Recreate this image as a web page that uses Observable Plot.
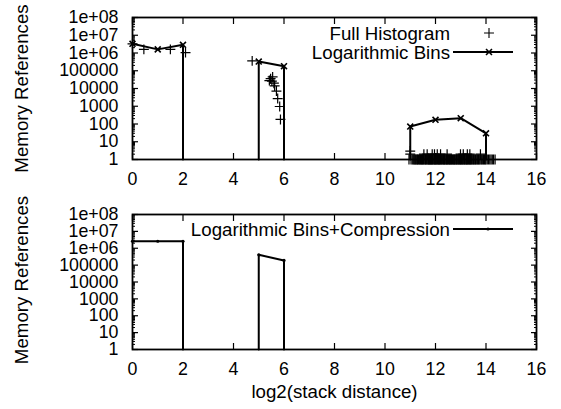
<!DOCTYPE html>
<html><head><meta charset="utf-8">
<script src="https://cdn.jsdelivr.net/npm/d3@7"></script>
<script src="https://cdn.jsdelivr.net/npm/@observablehq/plot@0.6"></script>
<style>
body{margin:0;background:#fff;}
#chart{width:561px;height:409px;}
#chart svg{display:block;}
</style></head><body><div id="chart"></div>
<script>
// ---- axis ticks / labels ----
const xTicks = [0, 2, 4, 6, 8, 10, 12, 14, 16];
const yTicks = [1, 10, 100, 1000, 1e4, 1e5, 1e6, 1e7, 1e8];
const yTickLabels = ["1", "10", "100", "1000", "10000", "100000", "1e+06", "1e+07", "1e+08"];
const xLabel = "log2(stack distance)";
const yLabel = "Memory References";

// ---- series: Logarithmic Bins (top panel); 1 = floor of the log axis; seg = line piece ----
const binX   = [0, 1, 2, 2, 5, 5, 6, 6, 11, 11, 12, 13, 14, 14];
const binY   = [3.3e6, 1.6e6, 2.9e6, 1, 1, 3.3e5, 1.8e5, 1, 1, 72, 172, 213, 30, 1];
const binSeg = [0, 0, 0, 0, 1, 1, 1, 1, 2, 2, 2, 2, 2, 2];

// ---- series: Full Histogram (top panel), counts above 1 ----
const fullX = [0, 0.45, 1.5, 2.1, 4.74,
  5.42, 5.47, 5.52, 5.55, 5.6, 5.63, 5.7, 5.75, 5.83, 5.86,
  11.0, 11.0, 11.54, 11.67, 11.87, 11.96, 12.07, 12.2, 12.46, 12.99, 13.1, 13.26, 13.36, 13.78];
const fullY = [3.3e6, 1.6e6, 1.6e6, 1.05e6, 3.6e5,
  2.8e4, 3.6e4, 2.6e4, 4.5e4, 2.0e4, 1.4e4, 7.2e3, 2.7e3, 970, 180,
  3, 2, 2, 2, 2, 2, 2, 2, 2, 2, 2, 2, 2, 2];
// ---- Full Histogram: distances referenced exactly once (count = 1) ----
const onceX = [10.95, 11.03, 11.08, 11.12, 11.15, 11.18, 11.2, 11.23, 11.26, 11.28, 11.3, 11.33,
  11.36, 11.38, 11.41, 11.43, 11.45, 11.48, 11.5, 11.52, 11.55, 11.58, 11.6, 11.62, 11.65, 11.67,
  11.7, 11.72, 11.74, 11.76, 11.78, 11.8, 11.82, 11.84, 11.86, 11.88, 11.9, 11.93, 11.95, 11.97,
  11.99, 12.01, 12.03, 12.05, 12.08, 12.1, 12.12, 12.14, 12.16, 12.18, 12.2, 12.23, 12.25, 12.27,
  12.3, 12.32, 12.34, 12.36, 12.38, 12.41, 12.43, 12.45, 12.47, 12.49, 12.52, 12.54, 12.56, 12.58,
  12.6, 12.63, 12.65, 12.67, 12.7, 12.72, 12.74, 12.76, 12.78, 12.81, 12.83, 12.85, 12.88, 12.9,
  12.92, 12.95, 12.97, 12.99, 13.01, 13.03, 13.06, 13.08, 13.1, 13.13, 13.15, 13.17, 13.2, 13.22,
  13.24, 13.26, 13.28, 13.31, 13.33, 13.35, 13.38, 13.4, 13.42, 13.45, 13.48, 13.5, 13.53, 13.56,
  13.58, 13.61, 13.64, 13.67, 13.7, 13.73, 13.76, 13.8, 13.83, 13.87, 13.9, 13.94, 13.97, 14.0,
  14.05, 14.1, 14.15, 14.2, 14.25, 14.3, 14.36];
const onceY = 1;

// ---- series: Logarithmic Bins+Compression (bottom panel) ----
const compX   = [0, 1, 2, 2, 5, 5, 6, 6];
const compY   = [2.6e6, 2.6e6, 2.6e6, 1, 1, 4.1e5, 1.9e5, 1];
const compSeg = [0, 0, 0, 0, 1, 1, 1, 1];

const binData = binX.map((x, i) => ({x, y: binY[i], s: binSeg[i]}));
const fullData = fullX.map((x, i) => ({x, y: fullY[i]})).concat(onceX.map(x => ({x, y: onceY})));
const compData = compX.map((x, i) => ({x, y: compY[i], s: compSeg[i]}));

const FONT = "Liberation Sans, Arial, Helvetica, sans-serif";
const FS = 17.8;   // tick labels
const FT = 18.7;   // other texts
const PLUS_R = 3.3, TIMES_R = 2.8;

// minor log ticks (axis decoration)
const minorTicks = [];
for (let e = 0; e < 8; e++) for (let m = 2; m <= 9; m++) minorTicks.push(m * Math.pow(10, e));

function legendMark(items, firstOffset) {
  return (index, scales, values, dims) => {
    const right = dims.width - dims.marginRight;
    const t = dims.marginTop;
    const g = d3.create("svg:g").attr("font-family", FONT).attr("font-size", FT);
    items.forEach((it, i) => {
      const y = t + firstOffset + i * 19;
      g.append("text").attr("x", right - 86).attr("y", y).attr("dy", "0.35em")
        .attr("text-anchor", "end").attr("fill", "black").text(it.label);
      if (it.line) g.append("line").attr("x1", right - 83).attr("x2", right - 23)
        .attr("y1", y).attr("y2", y).attr("stroke", "black").attr("stroke-width", 2);
      if (it.symbol === "plus") g.append("path")
        .attr("d", d3.symbol(d3.symbolPlus, Math.PI * PLUS_R * PLUS_R)())
        .attr("transform", `translate(${right - 47},${y})`).attr("fill", "none")
        .attr("stroke", "black").attr("stroke-width", 1.1);
      if (it.symbol === "times") g.append("path")
        .attr("d", d3.symbol(d3.symbolTimes, Math.PI * TIMES_R * TIMES_R)())
        .attr("transform", `translate(${right - 47},${y})`).attr("fill", "none")
        .attr("stroke", "black").attr("stroke-width", 1.6);
      if (it.symbol === "dot") g.append("circle").attr("cx", right - 48).attr("cy", y)
        .attr("r", 1.6).attr("fill", "black");
    });
    return g.node();
  };
}

function axes() {
  return [
    Plot.axisX(xTicks, {anchor: "bottom", tickSize: 0, tickPadding: 13, tickFormat: d => String(d), label: null, fontSize: FS}),
    Plot.axisX(xTicks, {anchor: "bottom", tickSize: 6, dy: -6, tickFormat: () => "", label: null, strokeWidth: 1.2}),
    Plot.axisX(xTicks, {anchor: "top", tickSize: 6, dy: 6, tickFormat: () => "", label: null, strokeWidth: 1.2}),
    Plot.axisY(yTicks, {anchor: "left", tickSize: 0, tickPadding: 14, tickFormat: d => yTickLabels[yTicks.indexOf(d)], label: null, fontSize: FS}),
    Plot.axisY(yTicks, {anchor: "left", tickSize: 6, dx: 6, tickFormat: () => "", label: null, strokeWidth: 1.2}),
    Plot.axisY(yTicks, {anchor: "right", tickSize: 6, dx: -6, tickFormat: () => "", label: null, strokeWidth: 1.2}),
    Plot.axisY(minorTicks, {anchor: "left", tickSize: 3, dx: 3, tickFormat: () => "", label: null, strokeWidth: 1}),
    Plot.axisY(minorTicks, {anchor: "right", tickSize: 3, dx: -3, tickFormat: () => "", label: null, strokeWidth: 1}),
    Plot.frame({stroke: "black", strokeWidth: 1.8})
  ];
}

function panel({height, marginTop, marginBottom, marks}) {
  return Plot.plot({
    width: 561, height, marginTop, marginBottom, marginLeft: 132, marginRight: 25,
    style: {fontFamily: FONT, fontSize: FS + "px", color: "black", background: "white", overflow: "visible"},
    x: {domain: [0, 16], axis: null},
    y: {type: "log", domain: [1, 1e8], axis: null},
    marks
  });
}

const topPanel = panel({
  height: 190, marginTop: 17, marginBottom: 31,
  marks: [
    ...axes(),
    Plot.text([yLabel], {frameAnchor: "left", dx: -110, rotate: -90, textAnchor: "middle", fontSize: FT, fill: "black"}),
    Plot.line(binData, {x: "x", y: "y", z: "s", stroke: "black", strokeWidth: 2}),
    Plot.dot(binData.filter(d => d.y > 1), {x: "x", y: "y", symbol: "times", r: TIMES_R, stroke: "black", strokeWidth: 1.6}),
    Plot.dot(fullData, {x: "x", y: "y", symbol: "plus", r: PLUS_R, stroke: "black", strokeWidth: 1.2}),
    legendMark([{label: "Full Histogram", symbol: "plus"}, {label: "Logarithmic Bins", line: true, symbol: "times"}], 16)
  ]
});

const bottomPanel = panel({
  height: 219, marginTop: 24, marginBottom: 60,
  marks: [
    ...axes(),
    Plot.text([yLabel], {frameAnchor: "left", dx: -110, dy: -2, rotate: -90, textAnchor: "middle", fontSize: FT, fill: "black"}),
    Plot.text([xLabel], {frameAnchor: "bottom", dy: 48, textAnchor: "middle", fontSize: FT, fill: "black"}),
    Plot.line(compData, {x: "x", y: "y", z: "s", stroke: "black", strokeWidth: 2}),
    Plot.dot(compData.filter(d => d.y > 1), {x: "x", y: "y", r: 1.6, fill: "black"}),
    legendMark([{label: "Logarithmic Bins+Compression", line: true, symbol: "dot"}], 15)
  ]
});

document.getElementById("chart").append(topPanel, bottomPanel);
</script></body></html>
